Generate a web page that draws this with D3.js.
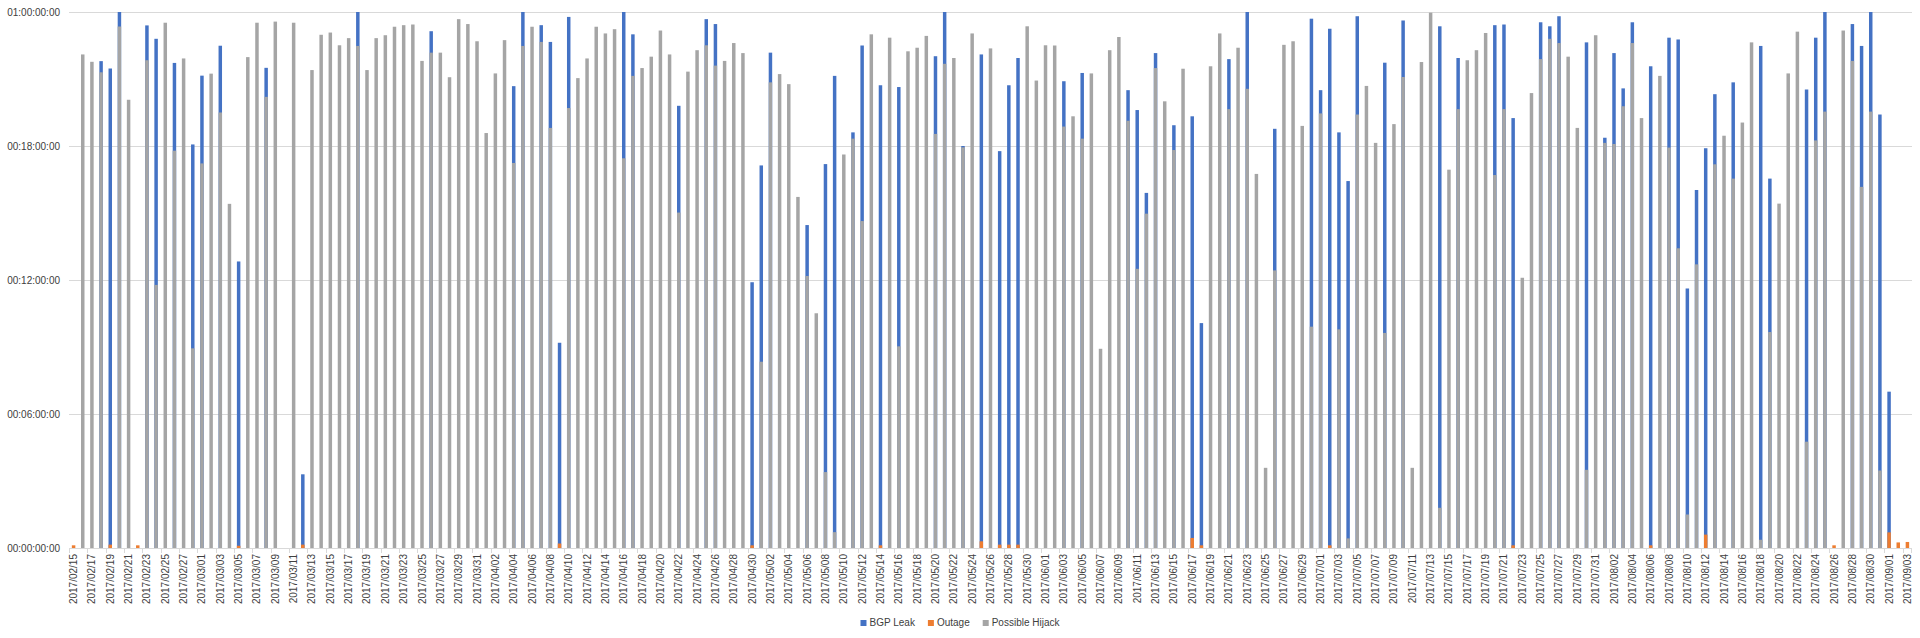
<!DOCTYPE html>
<html>
<head>
<meta charset="utf-8">
<script src="https://cdn.jsdelivr.net/npm/d3@7/dist/d3.min.js"></script>
<style>
body { margin: 0; background: #fff; }
text { font-family: "Liberation Sans", Arial, sans-serif; fill: #404040; }
</style>
</head>
<body>
<div id="container"></div>
<script>
// categorias: un dia por barra
var startDay = "2017-02-15";
var endDay = "2017-09-03";

var seriesNames = ["BGP Leak", "Outage", "Possible Hijack"];
var seriesColors = ["#4472c4", "#ed7d31", "#a5a5a5"];

// eje y en horas (24 = 1 dia)
var yTicks = [0, 6, 12, 18, 24];

// valores en horas
var bgpLeak = [
    null, null, null, 21.8, 21.47, 24, null, null, 23.4, 22.8,
    null, 21.72, null, 18.07, 21.15, null, 22.49, null, 12.83, null,
    null, 21.5, null, null, null, 3.3, null, null, null, null,
    null, 24, null, null, null, null, null, null, null, 23.14,
    null, null, null, null, null, null, null, null, 20.68, 24,
    null, 23.41, 22.66, 9.19, 23.78, null, null, null, null, null,
    24, 23.0, null, null, null, null, 19.8, null, null, 23.68,
    23.46, null, null, null, 11.9, 17.13, 22.18, null, null, null,
    14.46, null, 17.19, 21.14, null, 18.61, 22.5, null, 20.72, null,
    20.64, null, null, null, 22.02, 24, null, 18.0, null, 22.1,
    null, 17.77, 20.72, 21.94, null, null, null, null, 20.9, null,
    21.27, null, null, null, null, 20.5, 19.61, 15.9, 22.16, null,
    18.93, null, 19.33, 10.07, null, null, 21.89, null, 24, null,
    null, 18.77, null, null, null, 23.7, 20.5, 23.25, 18.61, 16.43,
    23.81, null, null, 21.73, null, 23.62, null, null, null, 23.36,
    null, 21.94, null, null, null, 23.41, 23.44, 19.25, null, null,
    23.54, 23.36, 23.81, null, null, 22.64, null, 18.37, 22.16, 20.58,
    23.54, null, 21.57, null, 22.85, 22.77, 11.62, 16.03, 17.9, 20.32,
    null, 20.85, null, null, 22.48, 16.54, null, null, null, 20.53,
    22.85, 24, null, null, 23.46, 22.48, 24, 19.41, 7.0, null,
    null
];

var outage = [
    0.12, null, null, null, 0.15, null, null, 0.12, null, null,
    null, null, null, null, null, null, null, null, 0.1, null,
    null, null, null, null, null, 0.15, null, null, null, null,
    null, null, null, null, null, null, null, null, null, null,
    null, null, null, null, null, null, null, null, null, null,
    null, null, null, 0.2, null, null, null, null, null, null,
    null, null, null, null, null, null, null, null, null, null,
    null, null, null, null, 0.12, null, null, null, null, null,
    null, null, null, null, null, null, null, null, 0.12, null,
    null, null, null, null, null, null, null, null, null, 0.3,
    null, 0.15, 0.15, 0.15, null, null, null, null, null, null,
    null, null, null, null, null, null, null, null, null, null,
    null, null, 0.45, 0.12, null, null, null, null, null, null,
    null, null, null, null, null, null, null, 0.12, null, null,
    null, null, null, null, null, null, null, null, null, null,
    null, null, null, null, null, null, null, 0.12, null, null,
    null, null, null, null, null, null, null, null, null, null,
    null, null, 0.12, null, null, null, null, null, 0.6, null,
    null, null, null, null, null, null, null, null, null, null,
    null, null, 0.12, null, null, null, null, null, 0.7, 0.25,
    0.27
];

var possibleHijack = [
    null, 22.1, 21.77, 21.3, null, 23.35, 20.07, null, 21.84, 11.78,
    23.52, 17.79, 21.92, 8.94, 17.22, 21.24, 19.5, 15.41, null, 21.98,
    23.52, 20.2, 23.57, null, 23.52, null, 21.4, 22.98, 23.08, 22.51,
    22.83, 22.48, 21.4, 22.83, 22.96, 23.34, 23.41, 23.44, 21.81, 22.18,
    22.18, 21.08, 23.68, 23.46, 22.69, 18.58, 21.25, 22.74, 17.24, 22.48,
    23.34, 22.66, 18.81, null, 19.7, 21.04, 21.92, 23.34, 23.04, 23.23,
    17.45, 21.14, 21.49, 22.0, 23.17, 22.1, 15.02, 21.33, 22.29, 22.51,
    21.6, 21.81, 22.61, 22.16, null, 8.34, 20.85, 21.22, 20.77, 15.72,
    12.18, 10.51, 3.4, 0.71, 17.62, 18.33, 14.64, 23.0, null, 22.85,
    9.03, 22.24, 22.4, 22.93, 18.54, 21.68, 21.94, 17.94, 23.04, null,
    22.37, null, null, null, 23.36, 20.93, 22.51, 22.5, 18.87, 19.33,
    18.33, 21.25, 8.92, 22.29, 22.88, 19.13, 12.5, 14.97, 21.49, 20.0,
    17.82, 21.46, null, null, 21.57, 23.04, 19.65, 22.4, 20.56, 16.75,
    3.59, 12.43, 22.53, 22.69, 18.9, 9.91, 19.46, null, 9.79, 0.43,
    19.41, 20.69, 18.14, 9.63, 18.98, 21.09, 3.59, 21.76, 23.97, 1.8,
    16.94, 19.65, 21.84, 22.29, 23.06, 16.7, 19.65, null, 12.1, 20.37,
    21.89, 22.8, 22.61, 22.0, 18.81, 3.5, 22.96, 18.14, 18.09, 19.78,
    22.61, 19.25, null, 21.14, 17.93, 13.42, 1.5, 12.7, null, 17.18,
    18.46, 16.54, 19.05, 22.64, 0.37, 9.67, 15.42, 21.25, 23.12, 4.76,
    18.25, 19.54, null, 23.17, 21.81, 16.17, 19.54, 3.47, null, null,
    null
];

var w = 1920;
var h = 638;

var parseDay = d3.timeParse("%Y-%m-%d");
var days = d3.timeDay.range(parseDay(startDay), d3.timeDay.offset(parseDay(endDay), 1));
var fmtDay = d3.timeFormat("%Y/%m/%d");

var series = [bgpLeak, outage, possibleHijack];

var svg = d3.select("#container").append("svg")
    .attr("width", w)
    .attr("height", h);

var x = d3.scaleBand()
    .domain(d3.range(days.length))
    .range([69, 1912]);

var y = d3.scaleLinear()
    .domain([0, 24])
    .range([548, 12])
    .clamp(true);

var barW = x.step() * 0.38;

// formato dd:hh:mm:ss
function fmtTime(hours) {
    var d = Math.floor(hours / 24);
    var hh = hours % 24;
    return d3.format("02")(d) + ":" + d3.format("02")(hh) + ":00:00";
}

//lineas de cuadricula
svg.append("g")
    .selectAll("line")
    .data(yTicks)
    .enter()
    .append("line")
    .attr("x1", 69)
    .attr("x2", 1912)
    .attr("y1", function (d) { return Math.round(y(d)) + 0.5; })
    .attr("y2", function (d) { return Math.round(y(d)) + 0.5; })
    .attr("stroke", "#d9d9d9")
    .attr("stroke-width", 1);

//etiquetas eje y
svg.append("g")
    .selectAll("text")
    .data(yTicks)
    .enter()
    .append("text")
    .attr("x", 60)
    .attr("y", function (d) { return y(d); })
    .attr("dy", "0.35em")
    .attr("text-anchor", "end")
    .style("font-size", "10px")
    .text(fmtTime);

//barras superpuestas: azul, naranja y gris encima
series.forEach(function (values, s) {
    svg.append("g")
        .selectAll("rect")
        .data(values.map(function (v, i) { return {i: i, v: v}; })
            .filter(function (d) { return d.v !== null && d.v > 0; }))
        .enter()
        .append("rect")
        .attr("x", function (d) { return x(d.i) + (x.step() - barW) / 2; })
        .attr("width", barW)
        .attr("y", function (d) { return y(d.v); })
        .attr("height", function (d) { return y(0) - y(d.v); })
        .attr("fill", seriesColors[s]);
});

//marcas del eje x cada 2 dias
var tickIdx = d3.range(0, days.length, 2);
svg.append("g")
    .selectAll("line")
    .data(tickIdx.concat([days.length]))
    .enter()
    .append("line")
    .attr("x1", function (d) { return d < days.length ? Math.round(x(d)) + 0.5 : 1911.5; })
    .attr("x2", function (d) { return d < days.length ? Math.round(x(d)) + 0.5 : 1911.5; })
    .attr("y1", 548)
    .attr("y2", 553)
    .attr("stroke", "#d9d9d9");

//etiquetas eje x
svg.append("g")
    .selectAll("text")
    .data(tickIdx)
    .enter()
    .append("text")
    .attr("transform", function (d) {
        return "translate(" + (x(d) + x.step() / 2) + ",554) rotate(-90)";
    })
    .attr("dy", "0.35em")
    .attr("text-anchor", "end")
    .style("font-size", "10px")
    .text(function (d) { return fmtDay(days[d]); });

//leyenda
var legend = svg.append("g");
var lx = 0;
seriesNames.forEach(function (name, s) {
    var item = legend.append("g").attr("transform", "translate(" + lx + ",0)");
    item.append("rect")
        .attr("x", 0)
        .attr("y", -6)
        .attr("width", 6)
        .attr("height", 6)
        .attr("fill", seriesColors[s]);
    var t = item.append("text")
        .attr("x", 9)
        .attr("y", 0)
        .style("font-size", "10px")
        .text(name);
    lx += 9 + t.node().getComputedTextLength() + 13;
});
lx -= 13;
legend.attr("transform", "translate(" + (960 - lx / 2) + ",626)");
</script>
</body>
</html>
